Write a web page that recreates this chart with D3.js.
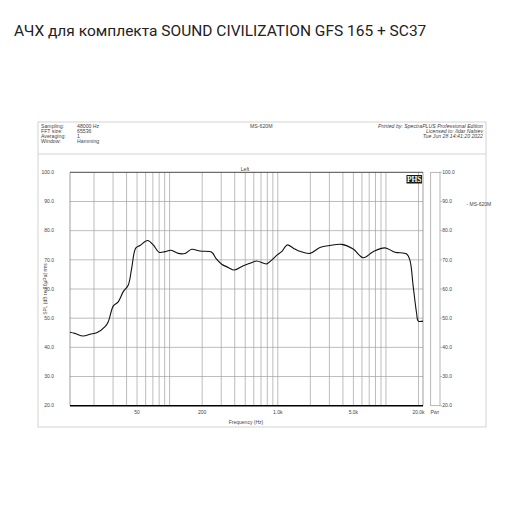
<!DOCTYPE html>
<html><head><meta charset="utf-8">
<script src="https://cdn.jsdelivr.net/npm/d3@7/dist/d3.min.js"></script>
<style>body{margin:0;background:#fff}svg{display:block}</style>
</head><body>
<script>
const freqs = [12, 13.3, 15.9, 18.4, 21.2, 25.3, 27.1, 30.2, 33.5, 37.3, 41.5, 44.6, 48.6, 53.2, 62.7, 70.7, 79.8, 90.6, 103, 120, 139, 160, 191, 245, 268, 303, 348, 396, 480, 553, 638, 789, 877, 989, 1086, 1224, 1391, 1546, 1983, 2453, 3035, 3892, 4983, 6164, 7626, 9780, 12100, 15530, 16650, 17870, 19200, 19870, 22000];
const spl = [45.2, 44.8, 43.9, 44.5, 45.0, 47.1, 48.8, 54.2, 55.6, 59.1, 61.4, 67.1, 74.0, 74.9, 76.6, 75.1, 72.6, 72.8, 73.3, 72.2, 72.2, 73.6, 73.0, 72.6, 70.5, 68.5, 67.4, 66.5, 68.0, 68.8, 69.6, 68.6, 69.9, 71.7, 72.8, 75.1, 74.0, 73.1, 72.2, 74.2, 74.9, 75.3, 73.7, 70.7, 72.8, 74.1, 72.6, 72.0, 69.9, 60.8, 51.7, 49.0, 49.0];
const gridFreqs = [20,30,40,50,60,70,80,90,100,200,300,400,500,600,700,800,900,1000,2000,3000,4000,5000,6000,7000,8000,9000,10000,20000];
const xTickVals = [50, 200, 1000, 5000, 20000];
const xTickLabels = ["50", "200", "1.0k", "5.0k", "20.0k"];
const yTicks = [20, 30, 40, 50, 60, 70, 80, 90, 100];
const headerLabels = ["Sampling:", "FFT size:", "Averaging:", "Window:"];
const headerValues = ["48000 Hz", "65536", "1", "Hamming"];
const printedLines = ["Printed by: SpectraPLUS Professional Edition", "Licensed to: Ildar Nabiev", "Tue Jun 28 14:41:20 2022"];

const W = 517, H = 517;
const svg = d3.select("body").append("svg").attr("width", W).attr("height", H);
const font = "Liberation Sans, Arial, sans-serif";

// Title
svg.append("text").attr("x", 14).attr("y", 35.5)
  .attr("font-family", "Roboto, sans-serif").attr("font-size", 15.5).attr("fill", "#222")
  .text("АЧХ для комплекта SOUND CIVILIZATION GFS 165 + SC37");

// outer frame
svg.append("rect").attr("x", 38).attr("y", 122).attr("width", 448).attr("height", 305)
  .attr("fill", "none").attr("stroke", "#c8c8c8").attr("stroke-width", 0.8);
svg.append("line").attr("x1", 38).attr("x2", 486).attr("y1", 154).attr("y2", 154)
  .attr("stroke", "#c8c8c8").attr("stroke-width", 0.8);

// header
const hg = svg.append("g").attr("font-family", font).attr("font-size", 5.2).attr("fill", "#444");
headerLabels.forEach((t, i) => {
  hg.append("text").attr("x", 41).attr("y", 127.8 + i * 5.2).text(t);
  hg.append("text").attr("x", 77).attr("y", 127.8 + i * 5.2).text(headerValues[i]);
});
hg.append("text").attr("x", 250).attr("y", 127.8).text("MS-620M");
printedLines.forEach((t, i) => {
  hg.append("text").attr("x", 483).attr("y", 127.8 + i * 5.2).attr("text-anchor", "end")
    .attr("font-style", "italic").text(t);
});

// scales
const L = 70, R = 423, T = 172.3, B = 405.7;
const x = d3.scaleLog().domain([12, 22000]).range([L, R]);
const y = d3.scaleLinear().domain([20, 100]).range([B, T]);

const g = svg.append("g");
g.selectAll("line.vg").data(gridFreqs).enter().append("line")
  .attr("x1", d => x(d)).attr("x2", d => x(d)).attr("y1", T).attr("y2", B)
  .attr("stroke", "#a0a0a0").attr("stroke-width", 0.7);
g.selectAll("line.hg").data(yTicks.filter(d => d > 20 && d < 100)).enter().append("line")
  .attr("x1", L).attr("x2", R).attr("y1", d => y(d)).attr("y2", d => y(d))
  .attr("stroke", "#a0a0a0").attr("stroke-width", 0.7);
g.append("line").attr("x1", L).attr("x2", L).attr("y1", T).attr("y2", B).attr("stroke", "#777").attr("stroke-width", 0.7);
g.append("line").attr("x1", R).attr("x2", R).attr("y1", T).attr("y2", B).attr("stroke", "#777").attr("stroke-width", 0.7);
g.append("line").attr("x1", L).attr("x2", R).attr("y1", T).attr("y2", T).attr("stroke", "#333").attr("stroke-width", 0.9);
g.append("line").attr("x1", L).attr("x2", R).attr("y1", B).attr("y2", B).attr("stroke", "#000").attr("stroke-width", 1.4);

const tg = svg.append("g").attr("font-family", font).attr("font-size", 5).attr("fill", "#444");
yTicks.forEach(v => {
  tg.append("text").attr("x", 54).attr("y", y(v) + 1.7).attr("text-anchor", "end").text(v.toFixed(1));
});
tg.append("text").attr("transform", `translate(46.5,${(T + B) / 2}) rotate(-90)`)
  .attr("text-anchor", "middle").text("SPL (dB re 20µPa) rms");

xTickVals.forEach((v, i) => {
  tg.append("text").attr("x", x(v)).attr("y", 414).attr("text-anchor", "middle").text(xTickLabels[i]);
});
tg.append("text").attr("x", 246).attr("y", 424).attr("text-anchor", "middle").text("Frequency (Hz)");
tg.append("text").attr("x", 245).attr("y", 170.5).attr("text-anchor", "middle").text("Left");

svg.append("rect").attr("x", 430.7).attr("y", T).attr("width", 9.3).attr("height", B - T)
  .attr("fill", "#fff").attr("stroke", "#999").attr("stroke-width", 0.7);
yTicks.forEach(v => {
  svg.append("line").attr("x1", 440).attr("x2", 442).attr("y1", y(v)).attr("y2", y(v)).attr("stroke", "#999").attr("stroke-width", 0.6);
  tg.append("text").attr("x", 442.3).attr("y", y(v) + 1.7).text(v.toFixed(1));
});
tg.append("text").attr("x", 430.5).attr("y", 414).text("Pwr");
tg.append("text").attr("x", 466.5).attr("y", 205.5).text("- MS-620M");

svg.append("rect").attr("x", 406.5).attr("y", 175).attr("width", 15.5).attr("height", 8.5).attr("fill", "#1a1a1a");
svg.append("text").attr("x", 414.2).attr("y", 182).attr("text-anchor", "middle")
  .attr("font-family", "Liberation Serif, Times New Roman, serif").attr("font-size", 7.5)
  .attr("font-weight", "bold").attr("fill", "#fff").text("PHS");

const data = freqs.map((f, i) => [f, spl[i]]);
const line = d3.line().x(d => x(d[0])).y(d => y(d[1])).curve(d3.curveCatmullRom.alpha(0.5));
svg.append("path").datum(data).attr("d", line).attr("fill", "none")
  .attr("stroke", "#111").attr("stroke-width", 1.1).attr("stroke-linejoin", "round");
</script>
</body></html>
